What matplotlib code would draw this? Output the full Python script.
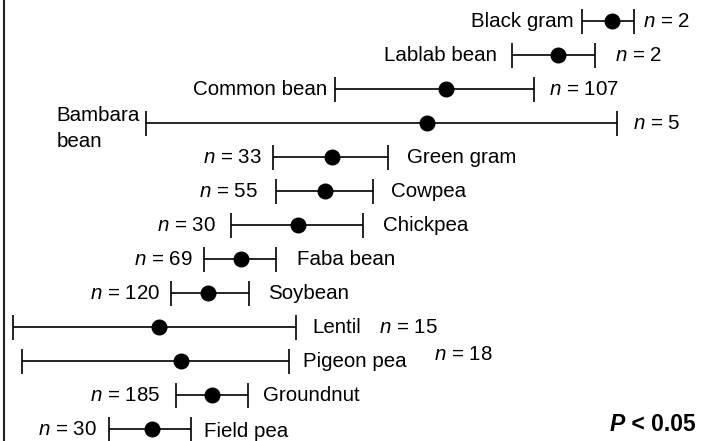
import matplotlib
matplotlib.use("Agg")
import matplotlib.pyplot as plt

plt.rcParams["font.family"] = ["Liberation Sans", "DejaVu Sans"]
plt.rcParams["mathtext.fontset"] = "custom"
plt.rcParams["mathtext.rm"] = "Liberation Sans"
plt.rcParams["mathtext.it"] = "Liberation Sans:italic"
plt.rcParams["mathtext.bf"] = "Liberation Sans:bold"

# crops, top to bottom (effect on an unlabelled scale)
crops = ["Black gram", "Lablab bean", "Common bean", "Bambara\nbean", "Green gram",
         "Cowpea", "Chickpea", "Faba bean", "Soybean", "Lentil", "Pigeon pea",
         "Groundnut", "Field pea"]
n_obs = [2, 2, 107, 5, 33, 55, 30, 69, 120, 15, 18, 185, 30]
mean = [61.2, 55.8, 44.6, 42.7, 33.2, 32.5, 29.8, 24.1, 20.8, 15.9, 18.1, 21.2, 15.2]
lower = [58.2, 51.2, 33.5, 14.6, 27.3, 27.6, 23.1, 20.4, 17.1, 1.3, 2.2, 17.6, 10.9]
upper = [63.4, 59.5, 53.4, 61.7, 38.8, 37.3, 36.3, 27.6, 24.9, 29.6, 28.9, 24.8, 19.1]

# label layout: where the crop name and the n go, gaps in pixels (dy > 0 is up)
name_side = ["left"] * 4 + ["right"] * 9
n_side = ["right"] * 4 + ["left"] * 5 + ["after"] * 2 + ["left"] * 2
name_gap = [8, 15, 8, 6, 19, 18, 20, 21, 19, 16, 14, 15, 13]
n_gap = [9, 20, 15, 16, 11, 18, 15, 11, 11, 18, 27, 16, 12]
n_dy = [0, 0, 0, 0, 0, 0, 0, 0, 0, 0, 7, 0, 0]
name_dy = [0, 0, 0, -5, 0, 0, 0, 0, 0, 0, 0, 0, -2]

PX = 0.72  # points per pixel at dpi 100
FS = 14.8

fig = plt.figure(figsize=(7.1, 4.41), dpi=100)
ax = fig.add_axes([4 / 710, 0, 1 - 4 / 710, 1])
ax.set_xlim(0.4, 71.0)
ax.set_ylim(12.34, -0.63)

ypos = list(range(len(crops)))
xerr = [[m - lo for m, lo in zip(mean, lower)], [hi - m for m, hi in zip(mean, upper)]]
ax.errorbar(mean, ypos, xerr=xerr, fmt="o", color="black", ms=10.5,
            elinewidth=1.2, capsize=9, capthick=1.2)

for i, name in enumerate(crops):
    y = ypos[i]
    if name_side[i] == "left":
        name_txt = ax.annotate(name, xy=(lower[i], y), xytext=(-name_gap[i] * PX, name_dy[i] * PX),
                               textcoords="offset points", ha="right", va="center",
                               fontsize=FS, multialignment="left", linespacing=1.45)
    else:
        name_txt = ax.annotate(name, xy=(upper[i], y), xytext=(name_gap[i] * PX, name_dy[i] * PX),
                               textcoords="offset points", ha="left", va="center", fontsize=FS)

    label = r"$\mathit{n}$ = " + str(n_obs[i])
    if n_side[i] == "right":
        ax.annotate(label, xy=(upper[i], y), xytext=(n_gap[i] * PX, n_dy[i] * PX),
                    textcoords="offset points", ha="left", va="center", fontsize=FS)
    elif n_side[i] == "left":
        ax.annotate(label, xy=(lower[i], y), xytext=(-n_gap[i] * PX, n_dy[i] * PX),
                    textcoords="offset points", ha="right", va="center", fontsize=FS)
    else:
        ax.annotate(label, xy=(1, y), xycoords=(name_txt, "data"),
                    xytext=(n_gap[i] * PX, n_dy[i] * PX),
                    textcoords="offset points", ha="left", va="center", fontsize=FS)

# significance note
p_txt = ax.text(61.0, 12.05, "P", fontsize=16.5, fontweight="bold", fontstyle="italic",
                ha="left", va="baseline")
ax.annotate(" < 0.05", xy=(1, 12.05), xycoords=(p_txt, "data"), fontsize=16.5,
            fontweight="bold", ha="left", va="baseline")

for side in ["top", "right", "bottom"]:
    ax.spines[side].set_visible(False)
ax.spines["left"].set_linewidth(1.5)
ax.spines["left"].set_color("#222222")
ax.set_xticks([])
ax.set_yticks([])

fig.savefig("out.png", dpi=100)
